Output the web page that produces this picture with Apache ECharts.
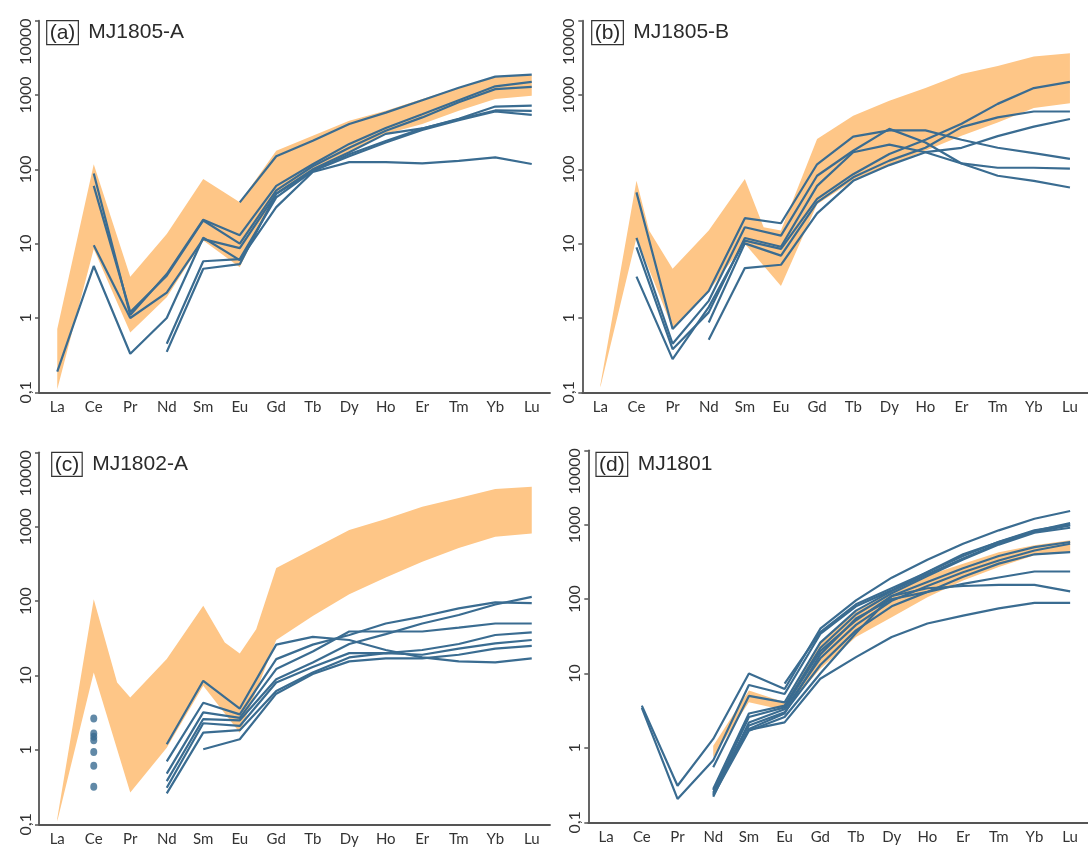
<!DOCTYPE html>
<html>
<head>
<meta charset="utf-8">
<title>REE patterns</title>
<script src="https://cdn.jsdelivr.net/npm/echarts@6/dist/echarts.min.js"></script>
<style>
  html, body { margin: 0; padding: 0; background: #ffffff; }
  #chart { width: 1088px; height: 849px; }
</style>
</head>
<body>
<div id="chart"></div>
<script>
// Rare earth elements on the x axis
const elements = ['La', 'Ce', 'Pr', 'Nd', 'Sm', 'Eu', 'Gd', 'Tb', 'Dy', 'Ho', 'Er', 'Tm', 'Yb', 'Lu'];

// Log-scale y ticks and their printed labels (decimal comma)
const yTicks = [0.1, 1, 10, 100, 1000, 10000];
const yTickLabels = ['0,1', '1', '10', '100', '1000', '10000'];

// Panel captions
const panelTags = ['(a)', '(b)', '(c)', '(d)'];
const panelNames = ['MJ1805-A', 'MJ1805-B', 'MJ1802-A', 'MJ1801'];

// Reference field (shaded): [element position, value] along upper and lower edges
const bandUpperA = [[0, 0.71], [1, 117], [2, 3.6], [3, 13.5], [4, 74], [5, 36], [6, 178], [7, 284], [8, 452], [9, 615], [10, 883], [11, 1260], [12, 1765], [13, 1850]];
const bandLowerA = [[0, 0.11], [1, 8.5], [2, 0.64], [3, 1.9], [4, 11], [5, 4.8], [6, 49], [7, 96], [8, 169], [9, 299], [10, 407], [11, 615], [12, 883], [13, 980]];

const bandUpperB = [[0, 0.125], [1, 70], [1.35, 15], [2, 4.6], [3, 15], [4, 74], [4.52, 16.6], [5, 15], [6, 256], [7, 528], [8, 835], [9, 1240], [10, 1920], [11, 2460], [12, 3310], [13, 3640]];
const bandLowerB = [[0, 0.117], [1, 12], [2, 0.72], [3, 2.3], [4, 10], [5, 2.7], [6, 34], [7, 70], [8, 114], [9, 178], [10, 283], [11, 427], [12, 668], [13, 776]];

const bandUpperC = [[0, 0.12], [1, 106], [1.64, 8.05], [2, 5.06], [3, 16.6], [4, 86.5], [4.59, 27.8], [5, 19.8], [5.45, 42], [6, 278], [7, 500], [8, 902], [9, 1268], [10, 1860], [11, 2430], [12, 3210], [13, 3450]];
const bandLowerC = [[0, 0.11], [1, 11], [2, 0.267], [3, 1.07], [4, 7.3], [5, 1.7], [6, 30], [7, 63], [8, 124], [9, 208], [10, 338], [11, 516], [12, 733], [13, 813]];

const bandUpperD = [[3, 1.07], [4, 5.9], [5, 4.1], [6, 26.4], [7, 67], [8, 131], [9, 208], [10, 299], [11, 427], [12, 530], [13, 616]];
const bandLowerD = [[3, 0.75], [4, 4.1], [5, 3.2], [6, 11.6], [7, 31], [8, 57], [9, 106], [10, 178], [11, 270], [12, 387], [13, 427]];

// Sample patterns, one value per element (null = not analysed / below detection)
const samplesA = [
  [0.19, 5, 0.33, 1.0, 12, 6, 31, 92, 125, 125, 120, 130, 145, 118],
  [null, 9.5, 1.0, 2.2, 11.5, 8.7, 47, 100, 170, 300, 355, 470, 620, 610],
  [null, 88, 1.1, 3.9, 21, 13, 60, 117, 220, 360, 550, 850, 1310, 1500],
  [null, 60, 1.2, 3.7, 20.5, 10, 52, 110, 195, 330, 500, 800, 1200, 1290],
  [null, null, null, 0.45, 5.8, 6.2, 42, 95, 160, 240, 355, 480, 700, 720],
  [null, null, null, 0.35, 4.6, 5.3, 47, 95, 150, 230, 340, 460, 600, 540],
  [null, null, null, null, null, 36, 150, 243, 407, 580, 850, 1250, 1770, 1880]
];

const samplesB = [
  [null, 49, 0.71, 2.3, 22, 18.8, 117, 275, 335, 335, 250, 195, 165, 138],
  [null, 12, 0.45, 1.7, 16.6, 12.8, 82, 178, 350, 230, 120, 82, 70, 57],
  [null, 8.9, 0.38, 1.19, 11.9, 9.1, 60, 170, 215, 170, 120, 105, 105, 102],
  [null, 3.6, 0.28, 1.4, 11, 8.5, 40, 86, 161, 250, 410, 760, 1240, 1500],
  [null, null, null, 0.87, 10.1, 6.9, 36, 78, 131, 195, 370, 500, 600, 600],
  [null, null, null, 0.51, 4.7, 5.2, 25.6, 70, 114, 170, 195, 280, 375, 475]
];

const samplesC = [
  [null, null, null, 1.19, 8.5, 3.6, 26, 33, 30, 22, 17.5, 15.5, 15, 17],
  [null, null, null, 0.70, 4.3, 3.0, 16.6, 26, 35, 50, 62, 80, 96, 94],
  [null, null, null, 0.48, 3.2, 2.7, 12.2, 21, 39, 39, 39, 44, 50, 50],
  [null, null, null, 0.38, 2.6, 2.5, 8.9, 15, 26.5, 36, 50, 65, 90, 114],
  [null, null, null, 0.31, 2.28, 2.1, 8.05, 13, 20, 20, 22, 26.5, 35, 38],
  [null, null, null, 0.26, 1.71, 1.84, 6.2, 11, 17.5, 20, 19, 23, 27, 30],
  [null, null, null, null, 1.02, 1.39, 5.7, 10.5, 15.5, 17, 17, 19, 23, 25]
];
// Ce values plotted as single points in panel (c)
const ceSpotsC = [2.64, 1.66, 1.5, 1.35, 0.94, 0.61, 0.32];

const samplesD = [
  [null, 3.7, 0.31, 1.32, 10, 6.2, 40, 96, 194, 338, 555, 840, 1202, 1528],
  [null, 3.45, 0.206, 0.68, 7, 5.3, 34, 80, 131, 231, 400, 585, 822, 1052],
  [null, null, null, 0.55, 5.0, 4.1, 26, 70, 128, 215, 350, 560, 800, 980],
  [null, null, null, 0.28, 2.9, 3.7, 22, 62, 120, 205, 340, 540, 780, 910],
  [null, null, null, 0.25, 2.6, 3.5, 20, 52, 110, 170, 260, 380, 500, 585],
  [null, null, null, 0.22, 2.2, 3.3, 16, 45, 95, 150, 230, 330, 450, 555],
  [null, null, null, 0.27, 2.0, 3.0, 13, 38, 80, 125, 200, 300, 400, 427],
  [null, null, null, 0.24, 1.8, 2.9, 18, 55, 100, 125, 160, 195, 235, 235],
  [null, null, null, 0.23, 1.7, 2.6, 10, 35, 110, 140, 150, 155, 155, 127],
  [null, null, null, null, 1.75, 2.2, 8.5, 16.6, 31, 47, 60, 75, 89, 89],
  [null, null, null, null, null, 7.3, 36, 85, 140, 230, 380, 590, 840, 1000]
];

const BLUE = '#3a6c91';
const ORANGE = '#fec687';
const AXIS = '#555555';

// Plot areas (px) of the four panels
const grids = [
  { left: 39, top: 20.7, width: 511, height: 371.6 },
  { left: 582.3, top: 20.7, width: 511, height: 371.6 },
  { left: 39, top: 452.3, width: 511, height: 372 },
  { left: 588.3, top: 450.3, width: 511, height: 372 }
];
const captionPos = [
  { left: 46.7, top: 20.7 },
  { left: 591.7, top: 20.7 },
  { left: 51.7, top: 452.3 },
  { left: 596, top: 452.3 }
];

const bands = [
  [bandUpperA, bandLowerA],
  [bandUpperB, bandLowerB],
  [bandUpperC, bandLowerC],
  [bandUpperD, bandLowerD]
];
const samples = [samplesA, samplesB, samplesC, samplesD];

function yLabel(v) {
  const i = yTicks.findIndex(t => Math.abs(Math.log10(t) - Math.log10(v)) < 1e-6);
  if (i < 0) return '';
  return i === yTicks.length - 1 ? '{top|' + yTickLabels[i] + '}' : yTickLabels[i];
}

const xAxes = [];
const yAxes = [];
const series = [];
const titles = [];

grids.forEach((g, k) => {
  // visible category axis
  xAxes.push({
    gridIndex: k,
    type: 'category',
    data: elements,
    boundaryGap: true,
    axisLine: { onZero: false, lineStyle: { color: AXIS, width: 1.8 } },
    axisTick: { alignWithLabel: true, length: 4, lineStyle: { color: AXIS, width: 1.5 } },
    axisLabel: { interval: 0, fontSize: 15, color: '#333', fontFamily: 'Lato', margin: 7 },
    splitLine: { show: false }
  });
  // hidden value axis sharing the same element spacing, used by the shaded field
  xAxes.push({
    gridIndex: k,
    type: 'value',
    min: -0.5,
    max: 13.5,
    show: false
  });
  yAxes.push({
    gridIndex: k,
    type: 'log',
    logBase: 10,
    min: yTicks[0],
    max: yTicks[yTicks.length - 1],
    axisLine: { show: true, onZero: false, lineStyle: { color: AXIS, width: 1.8 } },
    axisTick: { show: true, length: 4, lineStyle: { color: AXIS, width: 1.5 } },
    minorTick: { show: false },
    splitLine: { show: false },
    axisLabel: {
      rotate: 90,
      margin: 5,
      fontSize: 16,
      color: '#333',
      fontFamily: 'Lato',
      showMinLabel: true,
      showMaxLabel: true,
      formatter: yLabel,
      rich: { top: { fontSize: 16, fontFamily: 'Lato', color: '#333', padding: [0, 42, 0, 0] } }
    }
  });

  // shaded reference field as one polygon
  const upper = bands[k][0];
  const lower = bands[k][1];
  const outline = upper.concat(lower.slice().reverse());
  series.push({
    type: 'custom',
    xAxisIndex: 2 * k + 1,
    yAxisIndex: k,
    silent: true,
    z: 1,
    data: outline,
    renderItem: function (params, api) {
      if (params.dataIndex !== 0) return null;
      const pts = outline.map(p => api.coord(p));
      return { type: 'polygon', shape: { points: pts }, style: { fill: ORANGE } };
    }
  });

  samples[k].forEach(row => {
    series.push({
      type: 'line',
      xAxisIndex: 2 * k,
      yAxisIndex: k,
      data: row,
      symbol: 'none',
      connectNulls: false,
      silent: true,
      z: 3,
      lineStyle: { color: BLUE, width: 2.2 }
    });
  });

  titles.push({
    left: captionPos[k].left,
    top: captionPos[k].top,
    padding: 0,
    text: '{tag|' + panelTags[k] + '}{name|' + panelNames[k] + '}',
    textStyle: {
      fontWeight: 'normal',
      rich: {
        tag: {
          fontSize: 21, fontFamily: 'Liberation Sans', fontWeight: 'normal', color: '#2a2a2a',
          borderColor: '#333', borderWidth: 1.2, padding: [2, 3, 1, 3], lineHeight: 24
        },
        name: {
          fontSize: 21, fontFamily: 'Liberation Sans', fontWeight: 'normal', color: '#2a2a2a',
          padding: [0, 0, 0, 10], lineHeight: 24
        }
      }
    }
  });
});

// Ce spot analyses in panel (c)
series.push({
  type: 'scatter',
  xAxisIndex: 4,
  yAxisIndex: 2,
  silent: true,
  z: 4,
  symbol: 'circle',
  symbolSize: [7, 8],
  itemStyle: { color: BLUE },
  data: ceSpotsC.map(v => [elements.indexOf('Ce'), v])
});

const chart = echarts.init(document.getElementById('chart'), null, { renderer: 'canvas' });
chart.setOption({
  animation: false,
  backgroundColor: '#ffffff',
  title: titles,
  grid: grids.map(g => Object.assign({ containLabel: false }, g)),
  xAxis: xAxes,
  yAxis: yAxes,
  series: series
});
</script>
</body>
</html>
